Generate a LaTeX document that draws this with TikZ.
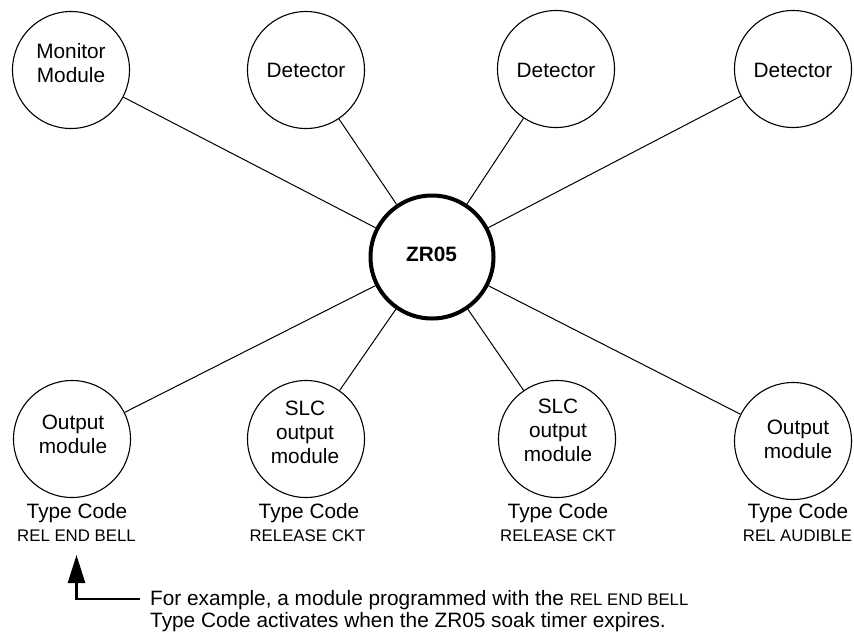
\documentclass[tikz,border=0pt]{standalone}
\usepackage{fontspec}
\setmainfont{Liberation Sans}
\usetikzlibrary{arrows.meta}
\begin{document}
\begin{tikzpicture}[x=1pt,y=-1pt,
  dev/.style={circle,draw,line width=1.1pt,minimum size=117pt,inner sep=0pt},
  hub/.style={circle,draw,line width=4pt,minimum size=123pt,inner sep=0pt},
  lbl/.style={font=\fontsize{20.8}{24}\selectfont,align=center,inner sep=0pt},
  tc/.style={font=\fontsize{20.8}{24}\selectfont,anchor=base,inner sep=0pt},
  code/.style={font=\fontsize{16.8}{20}\selectfont,anchor=base,inner sep=0pt},
  note/.style={font=\fontsize{20.8}{22}\selectfont,anchor=base west,inner sep=0pt},
  wire/.style={line width=1pt}]
\useasboundingbox (0,0) rectangle (854,633);
% hub
\node[hub] (zr) at (432,257) {};
\node[font=\bfseries\fontsize{20.8}{24}\selectfont,inner sep=0pt] (zrt) at (431.5,254.5) {ZR05};
% top devices
\node[dev] (mm) at (71,70) {};
\node[dev] (d1) at (306,70) {};
\node[dev] (d2) at (556,69) {};
\node[dev] (d3) at (793,69) {};
% bottom devices
\node[dev] (o1) at (72,439) {};
\node[dev] (s1) at (306,439) {};
\node[dev] (s2) at (557,439) {};
\node[dev] (o2) at (793,441) {};
% device texts
\node[lbl] (mmt) at (71,63) {Monitor\\Module};
\node[lbl] (d1t) at (306,70) {Detector};
\node[lbl] (d2t) at (556,70.5) {Detector};
\node[lbl] (d3t) at (793,70) {Detector};
\node[lbl] (o1t) at (73,434) {Output\\module};
\node[lbl] (s1t) at (305,432.5) {SLC\\output\\module};
\node[lbl] (s2t) at (558,430.5) {SLC\\output\\module};
\node[lbl] (o2t) at (798,439) {Output\\module};
% connectors
\foreach \n in {mm,d1,d2,d3,o1,s1,s2,o2}
  \draw[wire] (zr) -- (\n);
% type codes
\node[tc] (tc1) at (77,518) {Type Code};
\node[tc] (tc2) at (309,518) {Type Code};
\node[tc] (tc3) at (558,518) {Type Code};
\node[tc] (tc4) at (798,518) {Type Code};
\node[code] (c1) at (76.5,541.5) {REL END BELL};
\node[code] (c2) at (307.5,541) {RELEASE CKT};
\node[code] (c3) at (558,541) {RELEASE CKT};
\node[code] (c4) at (797.5,541.5) {REL AUDIBLE};
% annotation
\node[note] (n1) at (150,605) {For example, a module programmed with the {\fontsize{16.8}{20}\selectfont REL END BELL}};
\node[note] (n2) at (150,627) {Type Code activates when the ZR05 soak timer expires.};
\coordinate (ahook) at (140,599);
\coordinate (acorner) at (76.5,599);
\coordinate (atip) at (76.5,555);
\draw[line width=2.5pt,line join=miter,-{Triangle[length=28pt,width=17pt]}] (ahook) -- (acorner) -- (atip);
\end{tikzpicture}
\end{document}
